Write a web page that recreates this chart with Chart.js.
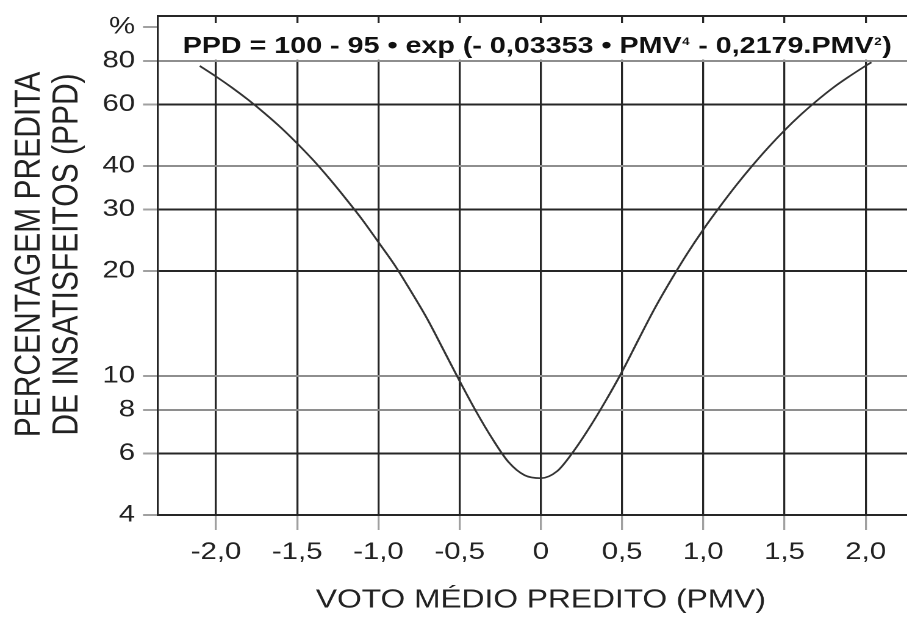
<!DOCTYPE html>
<html>
<head>
<meta charset="utf-8">
<script src="https://cdn.jsdelivr.net/npm/chart.js@4.4.1/dist/chart.umd.min.js"></script>
<style>
  html, body { margin: 0; padding: 0; background: #fff; overflow: hidden; width: 907px; height: 621px; }
  #wrap { position: absolute; left: 0; top: 0; height: 621px; transform-origin: 0 0; }
</style>
</head>
<body>
<div id="wrap"><canvas id="ppdChart"></canvas></div>
<script>
// PMV (predicted mean vote) and PPD (% dissatisfied) along the curve
const pmv = [-2.1, -2.0, -1.9, -1.8, -1.7, -1.6, -1.5, -1.4, -1.3, -1.2, -1.1, -1.0, -0.9, -0.8, -0.7, -0.6, -0.5, -0.4, -0.3, -0.2, -0.1,
             0.0, 0.1, 0.2, 0.3, 0.4, 0.5, 0.6, 0.7, 0.8, 0.9, 1.0, 1.1, 1.2, 1.3, 1.4, 1.5, 1.6, 1.7, 1.8, 1.9, 2.0, 2.035];
const ppd = [77.4, 72.2, 67.0, 61.8, 56.6, 51.5, 46.4, 41.5, 36.7, 32.2, 28.1, 24.2, 20.8, 17.5, 14.6, 11.9, 9.68, 7.94, 6.63, 5.68, 5.2,
             5.1, 5.34, 6.08, 7.13, 8.51, 10.3, 12.7, 15.6, 18.8, 22.4, 26.3, 30.5, 35.1, 40.0, 45.2, 50.6, 56.1, 61.6, 67.1, 72.3, 77.5, 79.3];

const xTicks = [-2, -1.5, -1, -0.5, 0, 0.5, 1, 1.5, 2];
const xTickLabels = ['-2,0', '-1,5', '-1,0', '-0,5', '0', '0,5', '1,0', '1,5', '2,0'];
const yTicks = [4, 6, 8, 10, 20, 30, 40, 60, 80, 100];
const yTickLabels = ['4', '6', '8', '10', '20', '30', '40', '60', '80', '%'];
const yLightLines = [8, 10, 40, 80];

const xTitle = 'VOTO MÉDIO PREDITO (PMV)';
const yTitle = ['PERCENTAGEM PREDITA', 'DE INSATISFEITOS (PPD)'];
// equation banner: [text, isSuperscript]
const equation = [
  ['PPD = 100 - 95 \u2022 exp (- 0,03353 \u2022 PMV', false],
  ['4', true],
  [' - 0,2179.PMV', false],
  ['2', true],
  [')', false]
];

// the whole figure is drawn narrow and widened horizontally
const STRETCH = 1.22;
const FAMILY = '"Liberation Sans", Arial, Helvetica, sans-serif';
const DARK = '#262626';
const LIGHT = '#8e8e8e';
const TICK = '#a0a0a0';

const wrap = document.getElementById('wrap');
wrap.style.width = '758px';
wrap.style.transform = 'scaleX(' + STRETCH + ')';

const framePlugin = {
  id: 'frame',
  beforeDatasetsDraw(chart) {
    const { ctx, chartArea, scales } = chart;
    const y80 = scales.y.getPixelForValue(80);
    ctx.save();
    ctx.fillStyle = '#ffffff';
    ctx.fillRect(chartArea.left + 1.2, chartArea.top + 7, chartArea.right - chartArea.left, y80 - 1.2 - (chartArea.top + 7));
    ctx.restore();
  },
  afterDraw(chart) {
    const { ctx, chartArea, scales } = chart;
    ctx.save();
    // top frame line
    ctx.strokeStyle = DARK;
    ctx.lineWidth = 2;
    ctx.beginPath();
    ctx.moveTo(chartArea.left, chartArea.top);
    ctx.lineTo(chartArea.right, chartArea.top);
    ctx.stroke();

    // equation
    const mainFont = 'bold 23.5px ' + FAMILY;
    const supFont = 'bold 11px ' + FAMILY;
    let total = 0;
    const widths = equation.map(([t, sup]) => {
      ctx.font = sup ? supFont : mainFont;
      const w = ctx.measureText(t).width + (sup ? 1 : 0);
      total += w;
      return w;
    });
    let x = scales.x.getPixelForValue(0) - 3 - total / 2;
    const base = scales.y.getPixelForValue(80) - 8;
    ctx.fillStyle = '#111';
    ctx.textBaseline = 'alphabetic';
    ctx.textAlign = 'left';
    equation.forEach(([t, sup], i) => {
      ctx.font = sup ? supFont : mainFont;
      ctx.fillText(t, x + (sup ? 0.5 : 0), sup ? base - 8 : base);
      x += widths[i];
    });

    // vertical axis title, two lines, reading upwards
    const midY = (chartArea.top + chartArea.bottom) / 2 - 11;
    ctx.font = '30px ' + FAMILY;
    ctx.fillStyle = '#222';
    ctx.textAlign = 'center';
    ctx.textBaseline = 'middle';
    yTitle.forEach((line, i) => {
      ctx.save();
      ctx.translate(24 + i * 31, midY);
      ctx.rotate(-Math.PI / 2);
      ctx.fillText(line, 0, 0);
      ctx.restore();
    });
    ctx.restore();
  }
};

new Chart(document.getElementById('ppdChart'), {
  type: 'line',
  data: {
    datasets: [{
      data: pmv.map((v, i) => ({ x: v, y: ppd[i] })),
      borderColor: '#333',
      borderWidth: 1.7,
      pointRadius: 0,
      fill: false,
      cubicInterpolationMode: 'monotone'
    }]
  },
  options: {
    responsive: true,
    maintainAspectRatio: false,
    devicePixelRatio: 2,
    animation: false,
    layout: { padding: { top: 16, left: 0, right: 0, bottom: 0 } },
    plugins: { legend: { display: false }, tooltip: { enabled: false } },
    scales: {
      x: {
        type: 'linear',
        min: -2.357,
        max: 2.357,
        afterBuildTicks(s) { s.ticks = xTicks.map(v => ({ value: v })); },
        afterFit(s) { s.height = 106; s.paddingLeft = 0; s.paddingRight = 0; },
        ticks: {
          autoSkip: false,
          maxRotation: 0,
          padding: 8,
          color: '#222',
          font: { family: FAMILY, size: 24 },
          callback: v => xTickLabels[xTicks.indexOf(v)]
        },
        grid: { color: DARK, lineWidth: 2 / STRETCH, tickLength: 15, tickColor: TICK, drawTicks: true },
        border: { display: true, color: DARK, width: 2 },
        title: {
          display: true,
          text: xTitle,
          color: '#222',
          font: { family: FAMILY, size: 26, lineHeight: 1.2 },
          padding: { top: 0, bottom: 5 }
        }
      },
      y: {
        type: 'logarithmic',
        min: 4,
        max: 107.6,
        afterBuildTicks(s) { s.ticks = yTicks.map(v => ({ value: v })); },
        afterFit(s) { s.width = 158 / STRETCH; s.paddingTop = 0; s.paddingBottom = 0; },
        ticks: {
          autoSkip: false,
          padding: 6.5,
          color: '#222',
          font: { family: FAMILY, size: 24 },
          callback: v => yTickLabels[yTicks.indexOf(v)]
        },
        grid: {
          color: c => {
            const v = c.tick ? c.tick.value : null;
            if (v === 100) return 'rgba(0,0,0,0)';
            return yLightLines.includes(v) ? LIGHT : DARK;
          },
          lineWidth: 2,
          tickLength: 15 / STRETCH,
          tickColor: TICK,
          drawTicks: true
        },
        border: { display: true, color: DARK, width: 2 / STRETCH },
        title: { display: false }
      }
    }
  },
  plugins: [framePlugin]
});
</script>
</body>
</html>
